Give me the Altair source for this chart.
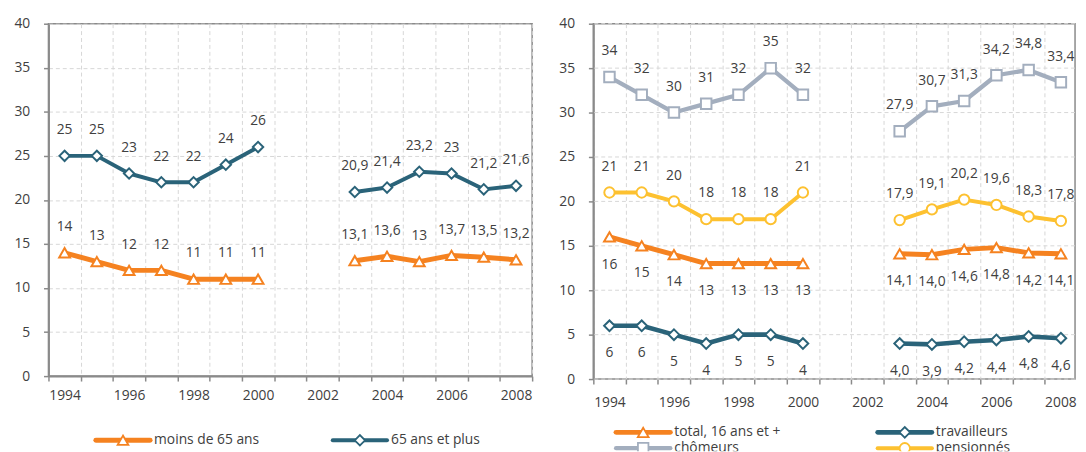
import altair as alt
import pandas as pd

FONT = "Open Sans"
TXT = "#404040"
AX = "#8a8a8a"
GRID = "#d6d6d6"

years = [str(y) for y in range(1994, 2009)]
y_ticks = [0, 5, 10, 15, 20, 25, 30, 35, 40]

# ---- left panel data
left_names = ["moins de 65 ans", "65 ans et plus"]
moins65 = [14, 13, 12, 12, 11, 11, 11, None, None, 13.1, 13.6, 13.0, 13.7, 13.5, 13.2]
moins65_lbl = ["14", "13", "12", "12", "11", "11", "11", "", "", "13,1", "13,6", "13", "13,7", "13,5", "13,2"]
plus65 = [25, 25, 23, 22, 22, 24, 26, None, None, 20.9, 21.4, 23.2, 23.0, 21.2, 21.6]
plus65_lbl = ["25", "25", "23", "22", "22", "24", "26", "", "", "20,9", "21,4", "23,2", "23", "21,2", "21,6"]

# ---- right panel data
right_names = ["total, 16 ans et +", "travailleurs", "chômeurs", "pensionnés"]
total = [16, 15, 14, 13, 13, 13, 13, None, None, 14.1, 14.0, 14.6, 14.8, 14.2, 14.1]
total_lbl = ["16", "15", "14", "13", "13", "13", "13", "", "", "14,1", "14,0", "14,6", "14,8", "14,2", "14,1"]
travailleurs = [6, 6, 5, 4, 5, 5, 4, None, None, 4.0, 3.9, 4.2, 4.4, 4.8, 4.6]
travailleurs_lbl = ["6", "6", "5", "4", "5", "5", "4", "", "", "4,0", "3,9", "4,2", "4,4", "4,8", "4,6"]
chomeurs = [34, 32, 30, 31, 32, 35, 32, None, None, 27.9, 30.7, 31.3, 34.2, 34.8, 33.4]
chomeurs_lbl = ["34", "32", "30", "31", "32", "35", "32", "", "", "27,9", "30,7", "31,3", "34,2", "34,8", "33,4"]
pensionnes = [21, 21, 20, 18, 18, 18, 21, None, None, 17.9, 19.1, 20.2, 19.6, 18.3, 17.8]
pensionnes_lbl = ["21", "21", "20", "18", "18", "18", "21", "", "", "17,9", "19,1", "20,2", "19,6", "18,3", "17,8"]

ORANGE = "#F58220"
TEAL = "#2A6379"
GREY = "#A3AEBE"
YELLOW = "#FDC130"

EVEN = "toNumber(datum.value) % 2 == 0 ? datum.label : ''"


def long_df(names, series, labels):
    rows = []
    for n, vals, lbls in zip(names, series, labels):
        for yr, v, l in zip(years, vals, lbls):
            if v is None:
                continue
            rows.append(dict(series=n, year=yr, value=v, label=l,
                             period="a" if int(yr) <= 2000 else "b"))
    return pd.DataFrame(rows)


def xaxis(xpad, values, domain=True):
    kw = dict(title=None, tickBand="extent", labelAngle=0, labelOverlap=False, labelExpr=EVEN,
              grid=True, gridDash=[4, 3], gridColor=GRID, gridWidth=1,
              domain=domain, tickColor=AX, tickSize=5, tickWidth=1.5,
              labelFont=FONT, labelFontSize=14, labelColor=TXT, labelPadding=xpad)
    if domain:
        kw.update(domainColor=AX, domainWidth=2)
    if values is not None:
        kw["values"] = values
    return alt.Axis(**kw)


def panel(df, names, colors, shapes, widths, sizes, above, below, height, width, xpad, cut):
    base = alt.Chart(df)
    xs = alt.Scale(type="band", domain=years, paddingInner=0, paddingOuter=0, range=[0, 490])
    if cut:
        main_axis = xaxis(xpad, years[:-1], domain=False)
        last_axis = alt.Axis(title=None, orient="bottom", values=[years[-1]], labelAngle=0,
                             grid=False, domain=False, ticks=True, tickOpacity=0, tickSize=5,
                             labelFont=FONT, labelFontSize=14, labelColor=TXT,
                             labelPadding=xpad)
        x_main = alt.X("year:O", scale=xs, bandPosition=0.5, axis=main_axis)
        x_last = alt.X("year:O", scale=xs, bandPosition=0.5, axis=last_axis)
        x_none = alt.X("year:O", scale=xs, bandPosition=0.5, axis=None)
    else:
        x_main = alt.X("year:O", scale=xs, bandPosition=0.5, axis=xaxis(xpad, None))
        x_last = x_main
        x_none = x_main
    ys = alt.Scale(domain=[0, 40], nice=False)
    yax = alt.Axis(title=None, values=y_ticks, grid=not cut,
                   gridDash=[4, 3], gridColor=GRID, gridWidth=1,
                   domainColor=AX, domainWidth=2, tickColor=AX,
                   tickSize=5, tickWidth=1.5, labelFont=FONT, labelFontSize=14,
                   labelColor=TXT, labelPadding=14)
    y = alt.Y("value:Q", scale=ys, axis=yax)
    color = alt.Color("series:N", scale=alt.Scale(domain=names, range=colors), legend=None)
    layers = []
    if cut:
        # horizontal grid spanning only the visible view width
        layers.append(alt.Chart(pd.DataFrame({"t": y_ticks}))
                      .mark_rule(strokeDash=[4, 3], color=GRID, strokeWidth=1)
                      .encode(y=alt.Y("t:Q", scale=ys, axis=yax)))
    lines = base.mark_line(strokeJoin="round", clip=cut).encode(
        x=x_main, y=y, color=color, detail="period:N",
        strokeWidth=alt.StrokeWidth("series:N", scale=alt.Scale(domain=names, range=widths), legend=None))
    pts = base.mark_point(filled=False, fill="white", strokeWidth=2, opacity=1, clip=cut).encode(
        x=x_last, y=y, color=color,
        shape=alt.Shape("series:N", scale=alt.Scale(domain=names, range=shapes), legend=None),
        size=alt.Size("series:N", scale=alt.Scale(domain=names, range=sizes), legend=None))
    layers += [lines, pts]
    if above:
        layers.append(base.transform_filter(alt.FieldOneOfPredicate(field="series", oneOf=above))
                      .mark_text(dy=-26, font=FONT, fontSize=14, color=TXT, clip=cut)
                      .encode(x=x_none, y=y, text="label:N"))
    if below:
        layers.append(base.transform_filter(alt.FieldOneOfPredicate(field="series", oneOf=below))
                      .mark_text(dy=28, font=FONT, fontSize=14, color=TXT, clip=cut)
                      .encode(x=x_none, y=y, text="label:N"))
    ch = alt.layer(*layers).properties(width=width, height=height)
    if cut:
        ch = ch.resolve_axis(x="independent")
    return ch


def legend(names, colors, shapes, widths, sizes, spots, height):
    rows = []
    for n, (cx, cy) in zip(names, spots):
        rows.append(dict(series=n, x0=cx, x1=cx + 55, xm=cx + 27.5, xt=cx + 59, y=cy))
    d = pd.DataFrame(rows)
    base = alt.Chart(d)
    xs = alt.Scale(domain=[0, 480])
    ys = alt.Scale(domain=[0, height], reverse=True)
    color = alt.Color("series:N", scale=alt.Scale(domain=names, range=colors), legend=None)
    rule = base.mark_rule(strokeCap="round", clip=True).encode(
        x=alt.X("x0:Q", scale=xs, axis=None), x2="x1:Q",
        y=alt.Y("y:Q", scale=ys, axis=None), color=color,
        strokeWidth=alt.StrokeWidth("series:N", scale=alt.Scale(domain=names, range=widths), legend=None))
    pt = base.mark_point(filled=False, fill="white", strokeWidth=1.8, opacity=1, clip=True).encode(
        x=alt.X("xm:Q", scale=xs, axis=None), y=alt.Y("y:Q", scale=ys, axis=None), color=color,
        shape=alt.Shape("series:N", scale=alt.Scale(domain=names, range=shapes), legend=None),
        size=alt.Size("series:N", scale=alt.Scale(domain=names, range=sizes), legend=None))
    tx = base.mark_text(align="left", baseline="middle", font=FONT, fontSize=14, color=TXT,
                        clip=True).encode(
        x=alt.X("xt:Q", scale=xs, axis=None), y=alt.Y("y:Q", scale=ys, axis=None), text="series:N")
    return alt.layer(rule, pt, tx).properties(width=480, height=height,
                                              view=alt.ViewBackground(stroke="transparent"))


left_df = long_df(left_names, [moins65, plus65], [moins65_lbl, plus65_lbl])
right_df = long_df(right_names, [total, travailleurs, chomeurs, pensionnes],
                   [total_lbl, travailleurs_lbl, chomeurs_lbl, pensionnes_lbl])

left_colors = [ORANGE, TEAL]
left_shapes = ["triangle-up", "diamond"]
left_widths = [5, 4]
left_sizes = [120, 110]

right_colors = [ORANGE, TEAL, GREY, YELLOW]
right_shapes = ["triangle-up", "diamond", "square", "circle"]
right_widths = [5, 4, 4, 4]
right_sizes = [120, 110, 80, 90]

left_panel = panel(left_df, left_names, left_colors, left_shapes, left_widths, left_sizes,
                   left_names, [], 357, 490, 8, False)
right_panel = panel(right_df, right_names, right_colors, right_shapes, right_widths, right_sizes,
                    ["chômeurs", "pensionnés"], ["total, 16 ans et +", "travailleurs"], 360, 488, 12, True)

left_leg = legend(left_names, left_colors, left_shapes, left_widths, [60, 60],
                  [(48, 13), (288, 13)], 24)
right_leg = legend(right_names, right_colors, right_shapes, right_widths, [60, 60, 55, 55],
                   [(23, 9), (288, 9), (23, 25), (288, 25)], 28)

chart = alt.hconcat(
    alt.vconcat(left_panel, left_leg, spacing=23),
    alt.vconcat(right_panel, right_leg, spacing=12),
    spacing=24,
).resolve_scale(
    color="independent", shape="independent", size="independent", strokeWidth="independent"
).properties(
    padding={"left": 5, "top": 5, "right": 0, "bottom": 0}
).configure_view(stroke=AX, strokeWidth=1.5)

chart.save("out.html", embed_options={"renderer": "svg", "actions": False})
